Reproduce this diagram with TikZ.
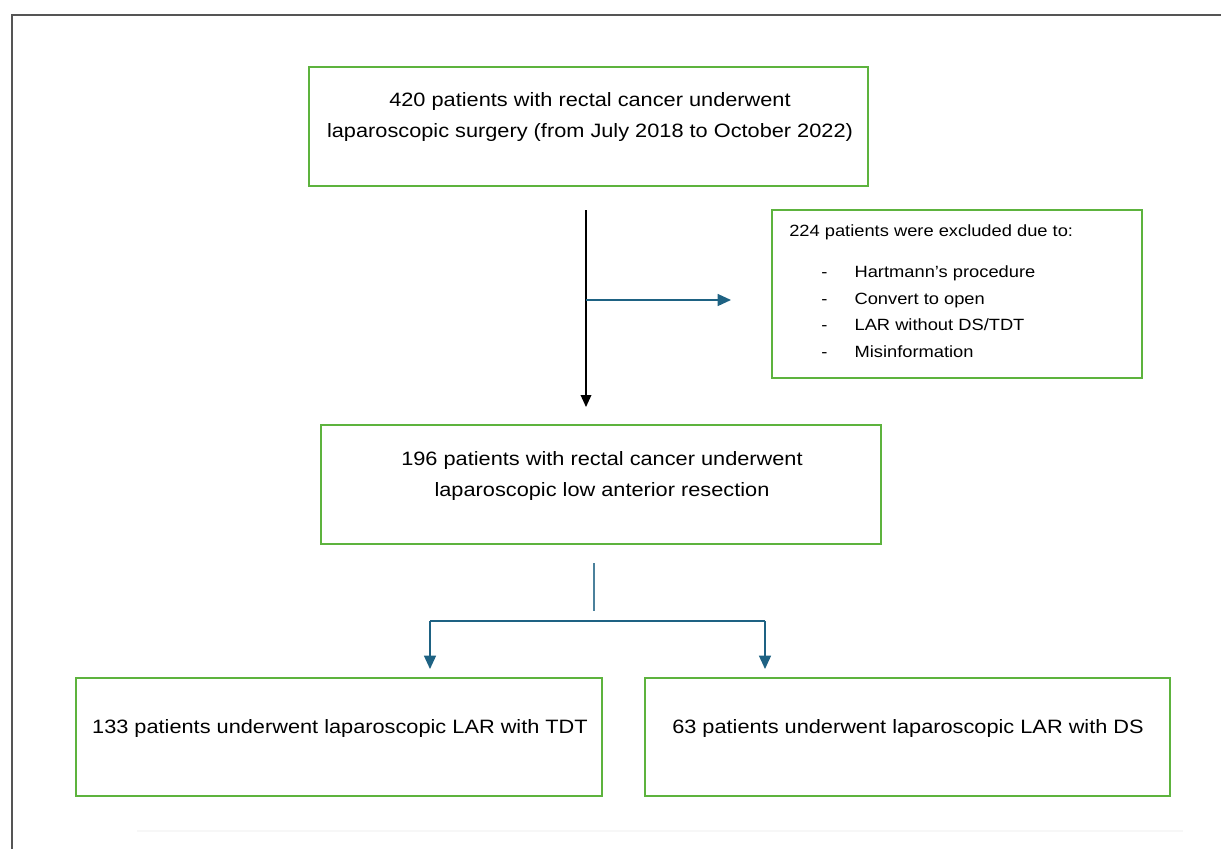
\documentclass[tikz,border=0pt]{standalone}
\usepackage{fontspec}
\setmainfont[FakeStretch=1.125]{Liberation Sans}
\usetikzlibrary{arrows.meta}
\definecolor{boxgreen}{HTML}{5DB33E}
\definecolor{arrblue}{HTML}{1E6283}
\definecolor{framegray}{HTML}{555555}
\tikzset{
  flowbox/.style={draw=boxgreen, line width=1.5pt, rectangle, inner sep=0pt},
  bluearrow/.style={draw=arrblue, line width=1pt, -{Triangle[length=10pt,width=9pt]}},
  blueline/.style={draw=arrblue, line width=1pt},
  blackarrow/.style={draw=black, line width=1pt, -{Triangle[length=9pt,width=8pt]}},
  maintext/.style={font=\fontsize{14.5}{23.5}\selectfont, align=center},
  listtext/.style={font=\fontsize{12.2}{15}\selectfont, anchor=base west, inner sep=0pt},
}
\begin{document}
\begin{tikzpicture}[x=0.75pt,y=-0.75pt]
\useasboundingbox (0,0) rectangle (1221,849);
% frame
\draw[framegray, line width=1.3pt] (1221,15) -- (12,15) -- (12,849);
\draw[gray!6, line width=2pt] (137,831) -- (1183,831);
% boxes
\node[flowbox, minimum width=419.25pt, minimum height=89.25pt] (b1) at (588.5,126.5) {};
\node[maintext] (t1) at (590,117) {420 patients with rectal cancer underwent\\laparoscopic surgery (from July 2018 to October 2022)};
\node[flowbox, minimum width=277.5pt, minimum height=126pt] (ex) at (957,294) {};
\node[listtext] (ext) at (789,236) {224 patients were excluded due to:};
\node[listtext] (e1) at (821,277) {\makebox[25pt][l]{-}Hartmann’s procedure};
\node[listtext] (e2) at (821,304) {\makebox[25pt][l]{-}Convert to open};
\node[listtext] (e3) at (821,330) {\makebox[25pt][l]{-}LAR without DS/TDT};
\node[listtext] (e4) at (821,357) {\makebox[25pt][l]{-}Misinformation};
\node[flowbox, minimum width=420pt, minimum height=89.25pt] (b2) at (601,484.5) {};
\node[maintext] (t2) at (602,476) {196 patients with rectal cancer underwent\\laparoscopic low anterior resection};
\node[flowbox, minimum width=394.5pt, minimum height=88.5pt] (b3) at (339,737) {};
\node[maintext] (t3) at (340,728) {133 patients underwent laparoscopic LAR with TDT};
\node[flowbox, minimum width=393.75pt, minimum height=88.5pt] (b4) at (907.5,737) {};
\node[maintext] (t4) at (908,728) {63 patients underwent laparoscopic LAR with DS};
% connectors
\coordinate (a1) at (586,210);
\coordinate (a2) at (586,407);
\coordinate (am) at (586,300);
\coordinate (ae) at (731,300);
\draw[blackarrow] (a1) -- (a2);
\draw[bluearrow] (am) -- (ae);
\coordinate (s1) at (594,563);
\coordinate (s2) at (594,611);
\coordinate (hl) at (430,621);
\coordinate (hr) at (765,621);
\coordinate (dl) at (430,669);
\coordinate (dr) at (765,669);
\draw[blueline, draw=arrblue!80] (s1) -- (s2);
\draw[blueline] (hl) -- (hr);
\draw[bluearrow] (hl) -- (dl);
\draw[bluearrow] (hr) -- (dr);
\end{tikzpicture}
\end{document}
